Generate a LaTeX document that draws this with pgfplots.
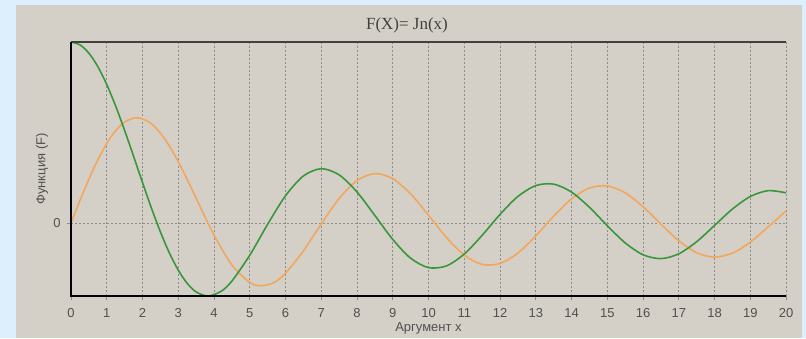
\documentclass[border=0pt]{standalone}
\usepackage{fontspec}
\setmainfont{Liberation Sans}
\newfontfamily\titlefont{Liberation Serif}
\usepackage{pgfplots}
\pgfplotsset{compat=1.18}
\usepackage{pgfplotstable}
\definecolor{outerbg}{HTML}{DDEFFD}
\definecolor{panel}{HTML}{D4D0C8}
\definecolor{jzero}{HTML}{3A963A}
\definecolor{jone}{HTML}{F2A75C}
\definecolor{gridc}{HTML}{8C8C8C}
\definecolor{txt}{HTML}{505050}
\definecolor{topline}{HTML}{404040}

\pgfplotstableread{
x y
0 1
0.25 0.9844
0.5 0.9385
0.75 0.8642
1 0.7652
1.25 0.6459
1.5 0.5118
1.75 0.3690
2 0.2239
2.25 0.0827
2.5 -0.0484
2.75 -0.1641
3 -0.2601
3.25 -0.3327
3.5 -0.3801
3.8317 -0.4028
4.2 -0.3766
4.5 -0.3205
5 -0.1776
5.5 -0.0068
6 0.1506
6.5 0.2601
7 0.3001
7.5 0.2663
8 0.1717
8.5 0.0419
9 -0.0903
9.5 -0.1939
10 -0.2459
10.5 -0.2366
11 -0.1712
11.5 -0.0677
12 0.0477
12.5 0.1469
13 0.2069
13.5 0.2150
14 0.1711
14.5 0.0875
15 -0.0142
15.5 -0.1092
16 -0.1749
16.5 -0.1963
17 -0.1699
17.5 -0.1031
18 -0.0134
18.5 0.0772
19 0.1466
19.5 0.1789
20 0.1670
}\jzerotab

\pgfplotstableread{
x y
0 0
0.25 0.1240
0.5 0.2423
0.75 0.3492
1 0.4401
1.25 0.5106
1.5 0.5579
1.8412 0.5819
2.2 0.5560
2.5 0.4971
2.75 0.4260
3 0.3391
3.25 0.2412
3.5 0.1374
4 -0.0660
4.5 -0.2311
5 -0.3276
5.3314 -0.3461
5.7 -0.3262
6 -0.2767
6.5 -0.1538
7 -0.0047
7.5 0.1352
8 0.2346
8.5 0.2731
9 0.2453
9.5 0.1613
10 0.0435
10.5 -0.0789
11 -0.1768
11.5 -0.2284
12 -0.2234
12.5 -0.1655
13 -0.0703
13.5 0.0380
14 0.1334
14.5 0.1934
15 0.2051
15.5 0.1672
16 0.0904
16.5 -0.0057
17 -0.0977
17.5 -0.1635
18 -0.1880
18.5 -0.1660
19 -0.1057
19.5 -0.0210
20 0.0668
}\jonetab

\begin{document}
\begin{tikzpicture}[x=1pt,y=1pt]
\useasboundingbox (-71,-42) rectangle (735,296);
\fill[outerbg] (-71,-42) rectangle (735,296);
\fill[panel] (-55,-42) rectangle (731,291);
\begin{axis}[
  at={(0,0)}, anchor=south west,
  scale only axis, width=715pt, height=254pt,
  xmin=0, xmax=20, ymin=-0.4028, ymax=1,
  xtick={0,1,...,20}, ytick={0},
  xtick pos=bottom, ytick pos=left,
  axis line style={draw=none},
  xmajorgrids, ymajorgrids,
  grid style={gridc, line width=0.8pt, dash pattern=on 2pt off 2pt},
  tick align=outside, major tick length=4pt,
  tick style={gridc, line width=0.8pt},
  /pgf/number format/assume math mode=true,
  ticklabel style={font=\fontsize{13}{15}\selectfont, text=txt},
  xticklabel style={anchor=center, yshift=-13pt},
  yticklabel style={anchor=center, xshift=-10pt},
  xlabel={Аргумент x},
  ylabel={Функция (F)},
  label style={font=\fontsize{13}{15}\selectfont, text=txt},
  xlabel style={at={(axis description cs:0.5,-0.126)}, anchor=center},
  ylabel style={at={(axis description cs:-0.0406,0.5)}, anchor=center},
  clip=false,
]
\addplot[jone, line width=1.6pt, smooth] table {\jonetab};
\addplot[jzero, line width=1.6pt, smooth] table {\jzerotab};
\draw[topline, line width=1.3pt] (rel axis cs:0,1) -- (rel axis cs:1,1);
\draw[black, line width=2pt] (rel axis cs:0,1) -- (rel axis cs:0,0) -- (rel axis cs:1,0);
\end{axis}
\node[font=\titlefont\fontsize{17}{19}\selectfont, text=topline] at (336,271) {F(X)= Jn(x)};
\end{tikzpicture}
\end{document}
